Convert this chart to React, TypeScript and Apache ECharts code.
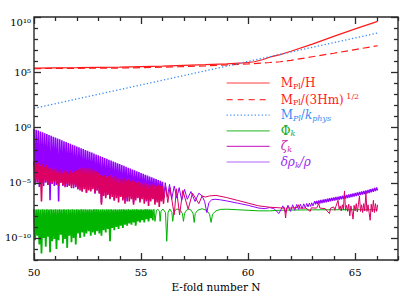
import React, { useEffect, useRef } from 'react';
import * as echarts from 'echarts';

// ---------- data (exponents: log10 of the plotted quantity) ----------
const xTickValues = [50, 51, 52, 53, 54, 55, 56, 57, 58, 59, 60, 61, 62, 63, 64, 65, 66, 67];
const yTickValues = [-12, -11, -10, -9, -8, -7, -6, -5, -4, -3, -2, -1, 0, 1, 2, 3, 4, 5, 6, 7, 8, 9, 10];
const yLabelText: Record<string, string> = {
  '10': '10¹⁰', '5': '10⁵', '0': '10⁰', '-5': '10⁻⁵', '-10': '10⁻¹⁰',
};

const nMplH = [50, 52, 54, 56, 58, 59, 59.8, 60.3, 60.7, 61.1, 61.5, 62, 63, 64, 65, 66.05];
const logMplH = [5.37, 5.41, 5.46, 5.55, 5.68, 5.76, 5.85, 5.95, 6.15, 6.42, 6.6, 6.9, 7.55, 8.25, 8.92, 9.6];

const nMplHm = [50, 54, 56, 58, 60, 61, 61.5, 62, 63, 64, 65, 66.05];
const logMplHm = [5.33, 5.38, 5.45, 5.58, 5.75, 5.88, 5.95, 6.08, 6.4, 6.72, 7.05, 7.4];

const nMplK = [50, 58, 66.05];
const logMplK = [1.73, 5.13, 8.56];

const BAND_START = 50;
const BAND_STEP = 0.1;

const drhoTop = [
  -0.12, -0.2, -0.28, -0.36, -0.44, -0.52, -0.6, -0.68, -0.76, -0.84,
  -0.92, -1.0, -1.08, -1.16, -1.24, -1.32, -1.4, -1.48, -1.56, -1.64,
  -1.72, -1.8, -1.88, -1.96, -2.04, -2.12, -2.2, -2.28, -2.36, -2.44,
  -2.52, -2.6, -2.68, -2.76, -2.84, -2.92, -3.0, -3.08, -3.16, -3.24,
  -3.32, -3.4, -3.48, -3.56, -3.64, -3.72, -3.8, -3.88, -3.96, -4.04,
  -4.12, -4.2, -4.28, -4.36, -4.44, -4.52, -4.6, -4.68, -4.76, -4.84,
  -4.92,
];
const drhoBot = [
  -5.2, -5.0, -5.4, -5.1, -5.3, -5.0, -5.2, -6.6, -5.1, -5.3,
  -5.2, -6.7, -5.0, -5.3, -5.1, -5.4, -5.2, -5.0, -5.5, -5.3,
  -5.6, -5.4, -5.8, -5.5, -5.9, -5.6, -5.7, -5.5, -6.0, -5.7,
  -5.9, -6.8, -5.8, -6.2, -6.0, -6.4, -6.1, -6.6, -6.0, -6.3,
  -6.2, -6.5, -6.1, -6.7, -6.3, -6.2, -6.8, -6.4, -6.3, -6.6,
  -6.4, -6.2, -6.7, -6.3, -6.5, -6.2, -6.6, -6.3, -6.5, -6.2,
  -6.4,
];

const zetaTop = [
  -3.1, -3.3, -3.2, -3.5, -3.3, -3.6, -3.4, -3.7, -3.6, -3.8,
  -3.7, -4.0, -3.8, -4.1, -3.9, -4.0, -4.2, -3.9, -4.1, -4.0,
  -3.9, -3.8, -3.7, -3.7, -3.6, -3.7, -3.7, -3.8, -3.9, -4.0,
  -4.1, -4.3, -4.4, -4.3, -4.5, -4.4, -4.3, -4.5, -4.4, -4.6,
  -4.6, -4.7, -4.6, -4.8, -4.7, -4.9, -4.8, -4.9, -5.0, -4.9,
  -5.0, -5.1, -5.0, -5.1, -5.2, -5.1, -5.2, -5.3, -5.2, -5.3,
  -5.3,
];
const zetaBot = [
  -5.0, -4.9, -5.1, -6.7, -5.0, -4.9, -5.2, -5.0, -5.1, -4.9,
  -5.1, -5.3, -5.0, -5.2, -5.4, -5.1, -5.3, -5.5, -5.2, -5.4,
  -5.6, -5.7, -5.8, -5.6, -5.9, -5.7, -5.8, -5.6, -5.9, -5.7,
  -6.0, -7.0, -6.2, -6.4, -6.1, -6.5, -6.3, -6.6, -6.4, -6.8,
  -6.3, -6.6, -6.9, -6.4, -6.7, -6.5, -7.0, -6.6, -6.4, -6.8,
  -6.5, -6.9, -6.6, -7.1, -6.7, -6.5, -7.0, -6.8, -7.2, -6.7,
  -6.9,
];

const phiTop = [
  -7.4, -7.43, -7.41, -7.44, -7.4, -7.42, -7.41, -7.44, -7.4, -7.43,
  -7.41, -7.42, -7.4, -7.44, -7.41, -7.43, -7.4, -7.42, -7.41, -7.44,
  -7.4, -7.43, -7.41, -7.42, -7.4, -7.44, -7.41, -7.43, -7.4, -7.42,
  -7.41, -7.44, -7.4, -7.43, -7.41, -7.42, -7.4, -7.44, -7.41, -7.43,
  -7.4, -7.42, -7.41, -7.44, -7.4, -7.43, -7.41, -7.42, -7.4, -7.44,
  -7.41, -7.43, -7.4, -7.42, -7.41, -7.44,
];
const phiBot = [
  -10.2, -9.8, -10.6, -11.4, -10.0, -10.8, -9.9, -11.3, -10.3, -10.1,
  -11.0, -10.2, -9.7, -10.5, -10.1, -10.9, -9.8, -10.4, -10.0, -10.6,
  -9.6, -10.0, -9.5, -9.9, -9.6, -9.4, -9.8, -9.5, -9.7, -9.4,
  -9.6, -9.8, -9.3, -9.5, -9.2, -10.3, -9.1, -9.3, -9.0, -9.2,
  -8.9, -9.1, -8.8, -8.9, -8.7, -8.8, -8.6, -8.9, -8.5, -8.6,
  -8.4, -8.6, -8.3, -8.5, -8.2, -8.4,
];

const drhoTail = [
  [56.05, -6.4], [56.13, -5.0], [56.23, -6.3], [56.33, -5.15], [56.43, -6.5], [56.55, -5.3], [56.67, -6.4],
  [56.78, -5.45], [56.9, -6.6], [57.03, -5.6], [57.16, -6.5], [57.33, -5.8], [57.52, -6.7],
  [57.7, -5.95], [57.85, -6.2], [57.97, -6.7], [58.07, -7.7], [58.17, -6.8], [58.3, -6.55],
  [58.45, -6.5], [58.7, -6.55], [59.0, -6.65], [59.5, -6.85], [60.0, -7.05], [60.5, -7.3],
  [60.8, -7.35], [61.0, -7.25], [61.2, -7.35], [61.32, -7.55], [61.43, -7.8], [61.55, -7.4],
  [61.62, -7.1], [61.75, -7.7], [61.86, -7.05], [61.98, -7.6], [62.08, -7.0], [62.18, -7.5],
  [62.27, -6.97], [62.36, -7.42], [62.44, -6.94], [62.52, -7.35], [62.6, -6.91], [62.67, -7.28],
  [62.74, -6.88], [62.8, -7.2], [62.86, -6.85], [62.92, -7.15], [62.97, -6.82], [63.03, -7.1],
  [63.1, -6.68],
];
const END_START = 63.1;
const drhoEndTop = [
  -6.68, -6.65, -6.61, -6.57, -6.53, -6.49, -6.45, -6.41, -6.37, -6.33,
  -6.3, -6.26, -6.22, -6.19, -6.15, -6.11, -6.06, -6.02, -5.98, -5.93,
  -5.88, -5.84, -5.79, -5.75, -5.7, -5.65, -5.59, -5.54, -5.48, -5.43,
];
const drhoEndBot = [
  -6.96, -6.93, -6.89, -6.85, -6.81, -6.77, -6.73, -6.69, -6.65, -6.61,
  -6.58, -6.54, -6.5, -6.47, -6.43, -6.39, -6.34, -6.3, -6.26, -6.21,
  -6.16, -6.12, -6.07, -6.03, -5.98, -5.93, -5.87, -5.82, -5.76, -5.71,
];

const zetaTail = [
  [56.05, -6.9], [56.15, -5.35], [56.25, -6.8], [56.35, -5.45], [56.55, -7.9], [56.65, -5.55], [56.8, -7.9],
  [56.95, -5.7], [57.2, -7.4], [57.4, -5.95], [57.7, -6.9], [57.85, -6.2], [58.0, -6.3],
  [58.2, -6.2], [58.5, -6.15], [59.0, -6.35], [59.5, -6.6], [60.0, -6.85], [60.5, -7.1],
  [61.0, -7.22], [61.5, -7.28], [61.6, -7.3], [61.7, -7.25], [61.75, -8.2], [61.8, -7.28],
  [62.0, -7.3], [62.3, -7.25], [62.35, -7.0], [62.4, -7.3], [62.7, -7.3], [62.9, -7.6],
  [62.95, -7.28], [63.2, -7.3], [63.3, -6.9], [63.35, -7.3], [63.6, -7.35], [63.8, -7.8],
  [63.85, -7.3], [64.0, -7.2], [64.05, -7.5], [64.1, -7.15], [64.2, -6.6], [64.25, -7.4],
  [64.3, -7.1], [64.35, -7.55], [64.4, -7.0], [64.45, -7.45], [64.5, -5.75], [64.55, -7.5],
  [64.6, -7.05], [64.65, -7.6], [64.7, -6.95], [64.75, -8.0], [64.8, -7.1], [64.85, -7.6],
  [64.9, -8.3], [64.95, -7.05], [65.0, -7.55], [65.05, -6.9], [65.1, -7.65], [65.15, -7.0],
  [65.2, -6.2], [65.25, -7.6], [65.3, -7.0], [65.35, -7.7], [65.4, -6.9], [65.45, -7.55],
  [65.5, -5.9], [65.55, -7.6], [65.6, -7.0], [65.65, -7.7], [65.7, -8.4], [65.75, -6.95],
  [65.8, -7.65], [65.85, -6.6], [65.9, -7.7], [65.95, -6.9], [66.0, -7.6], [66.05, -7.0],
];

const phiTail = [
  [55.55, -8.4], [55.6, -7.4], [55.65, -8.5], [55.72, -7.5], [55.78, -7.4], [55.86, -7.6], [55.89, -8.5],
  [55.93, -7.6], [56.02, -7.38], [56.14, -7.7], [56.2, -10.3], [56.26, -7.7], [56.34, -7.38],
  [56.44, -7.7], [56.48, -8.5], [56.53, -7.7], [56.64, -7.4], [56.73, -7.4], [56.84, -7.5],
  [56.93, -7.8], [56.98, -8.5], [57.03, -7.8], [57.12, -7.5], [57.23, -7.38], [57.34, -7.5],
  [57.43, -7.8], [57.48, -8.6], [57.53, -7.8], [57.64, -7.5], [57.85, -7.36], [58.05, -7.5],
  [58.2, -7.85], [58.27, -8.6], [58.34, -7.85], [58.5, -7.55], [58.7, -7.42], [59.0, -7.4],
  [59.5, -7.45], [60.0, -7.5], [60.5, -7.55], [61.0, -7.55], [61.5, -7.5], [62.0, -7.48],
  [63.0, -7.46], [64.0, -7.45], [65.0, -7.45], [66.05, -7.45],
];

// ---------- helpers ----------
const pairs = (xs: number[], ys: number[]) => xs.map((x, i) => [x, ys[i]]);
const zigzag = (n0: number, step: number, top: number[], bot: number[]) => {
  const out: number[][] = [];
  for (let i = 0; i < top.length; i++) {
    const n = n0 + i * step;
    out.push([+n.toFixed(3), top[i]]);
    out.push([+(n + step / 2).toFixed(3), bot[i]]);
  }
  return out;
};

const FONT = 'DejaVu Serif';
const AX = '#2a2a2a';
const X_MIN = 50, X_MAX = 67, Y_MIN = -12, Y_MAX = 10;

const RED = '#ff1a1a';
const BLUE = '#3a8af5';
const GREEN = '#00b400';
const ZETA = '#dc0064';
const PURPLE = '#9400ff';

const legendLabels: Record<string, string> = {
  MplH: '{sp| }{r|M}{rs|Pl}{r|/H}',
  MplHm: '{sp| }{r|M}{rs|Pl}{r|/(3Hm)}{rsup| 1/2}',
  MplK: '{sp| }{b|M}{bs|Pl}{b|/}{bi|k}{bs|phys}',
  Phi: '{sp| }{g|Φ}{gs|k}',
  Zeta: '{sp| }{m|ζ}{ms|k}',
  Drho: '{sp| }{p|δρ}{ps|k}{p|/ρ}',
};

const main = (color: string, italic = false) => ({
  color, fontFamily: FONT, fontSize: 12, lineHeight: 14, fontStyle: italic ? 'italic' : 'normal',
});
const sub = (color: string, italic = false) => ({
  color, fontFamily: FONT, fontSize: 8, lineHeight: 8, verticalAlign: 'bottom', fontStyle: italic ? 'italic' : 'normal',
});
const sup = (color: string) => ({
  color, fontFamily: FONT, fontSize: 8, lineHeight: 8, verticalAlign: 'top',
});

export default function App() {
  const ref = useRef<HTMLDivElement>(null);

  useEffect(() => {
    if (!ref.current) return;
    const chart = echarts.init(ref.current, undefined, { renderer: 'svg' });

    const line = (name: string, data: number[][], color: string, width = 1, type: any = 'solid') => ({
      name, type: 'line', data, showSymbol: false, symbol: 'none', smooth: false,
      lineStyle: { color, width, type }, itemStyle: { color }, emphasis: { disabled: true }, silent: true,
      clip: true, z: 2,
    });

    const legendItem = (name: string, color: string, width: number, type: any = 'solid') => ({
      name, lineStyle: { color, width, type, opacity: 1 }, itemStyle: { color, opacity: 0, borderWidth: 0 },
    });

    // tick marks drawn through the axes' own scales (inward, on all four sides)
    const snap = (v: number) => Math.round(v) + 0.5;
    const tickStyle = () => ({ stroke: AX, lineWidth: 1.3 });
    const xTickSeries = {
      name: 'xticks', type: 'custom', silent: true, clip: false, z: 8,
      data: xTickValues.map((v) => [v, 0]),
      renderItem: (_p: any, api: any) => {
        const v = api.value(0);
        const len = v % 5 === 0 ? 7 : 4;
        const b = api.coord([v, Y_MIN]);
        const t = api.coord([v, Y_MAX]);
        const x = snap(b[0]);
        return {
          type: 'group',
          children: [
            { type: 'line', shape: { x1: x, y1: b[1], x2: x, y2: b[1] - len }, style: tickStyle() },
            { type: 'line', shape: { x1: x, y1: t[1], x2: x, y2: t[1] + len }, style: tickStyle() },
          ],
        };
      },
    };
    const yTickSeries = {
      name: 'yticks', type: 'custom', silent: true, clip: false, z: 8,
      data: yTickValues.map((v) => [X_MIN, v]),
      renderItem: (_p: any, api: any) => {
        const v = api.value(1);
        const len = v % 5 === 0 ? 7 : 4;
        const l = api.coord([X_MIN, v]);
        const r = api.coord([X_MAX, v]);
        const y = snap(l[1]);
        return {
          type: 'group',
          children: [
            { type: 'line', shape: { x1: l[0], y1: y, x2: l[0] + len, y2: y }, style: tickStyle() },
            { type: 'line', shape: { x1: r[0], y1: y, x2: r[0] - len, y2: y }, style: tickStyle() },
          ],
        };
      },
    };

    const option: any = {
      animation: false,
      backgroundColor: '#ffffff',
      grid: {
        left: 34, right: 17, top: 17, bottom: 37, containLabel: false, outerBoundsMode: 'none',
        show: true, borderColor: AX, borderWidth: 1.4, backgroundColor: 'transparent', z: 6,
      },
      xAxis: {
        type: 'value', min: X_MIN, max: X_MAX, interval: 1, splitLine: { show: false },
        axisLine: { show: false, onZero: false }, axisTick: { show: false },
        axisLabel: {
          show: true, margin: 7, color: '#000', fontFamily: FONT, fontSize: 10,
          formatter: (v: number) => (Math.round(v) % 5 === 0 ? String(Math.round(v)) : ''),
        },
        name: 'E-fold number N', nameLocation: 'middle', nameGap: 14,
        nameTextStyle: { color: '#000', fontFamily: FONT, fontSize: 10.5 },
      },
      yAxis: {
        type: 'value', min: Y_MIN, max: Y_MAX, interval: 1, splitLine: { show: false },
        axisLine: { show: false, onZero: false }, axisTick: { show: false },
        axisLabel: {
          show: true, margin: 3, color: '#000', fontFamily: FONT, fontSize: 10,
          verticalAlignMaxLabel: 'top',
          formatter: (v: number) => yLabelText[String(Math.round(v))] || '',
        },
      },
      legend: {
        orient: 'vertical', left: 226, top: 77, padding: 0, itemWidth: 43, itemHeight: 14, itemGap: 2.6,
        selectedMode: false,
        data: [
          legendItem('MplH', '#ff3b3b', 1.2),
          legendItem('MplHm', '#ff3b3b', 1.2, [6, 5]),
          legendItem('MplK', '#4a96f5', 1.3, [1.3, 2.2]),
          legendItem('Phi', '#4cc44c', 1.2),
          legendItem('Zeta', '#d03ccc', 1.2),
          legendItem('Drho', '#b366ff', 1.2),
        ],
        formatter: (name: string) => legendLabels[name],
        textStyle: {
          fontFamily: FONT, fontSize: 12,
          rich: {
            sp: { width: 6 },
            r: main(RED), rs: sub(RED), rsup: sup(RED),
            b: main(BLUE), bi: main(BLUE, true), bs: sub(BLUE, true),
            g: main('#1aaa1a'), gs: sub('#1aaa1a', true),
            m: main('#cc1fb0', true), ms: sub('#cc1fb0', true),
            p: main('#9a2cf0', true), ps: sub('#9a2cf0', true),
          },
        },
      },
      series: [
        line('MplH', pairs(nMplH, logMplH), RED, 1.2),
        line('MplHm', pairs(nMplHm, logMplHm), RED, 1.2, [7, 4]),
        line('MplK', pairs(nMplK, logMplK), BLUE, 1.3, [1.3, 2.2]),
        line('Phi', zigzag(BAND_START, BAND_STEP, phiTop, phiBot), GREEN, 1.8),
        line('Phi', phiTail, GREEN, 1),
        line('Drho', zigzag(BAND_START, BAND_STEP, drhoTop, drhoBot), PURPLE, 1.6),
        line('Drho', drhoTail, PURPLE, 1),
        line('Drho', zigzag(END_START, BAND_STEP, drhoEndTop, drhoEndBot), PURPLE, 1.3),
        line('Zeta', zigzag(BAND_START, BAND_STEP, zetaTop, zetaBot), ZETA, 1.6),
        line('Zeta', zetaTail, ZETA, 1),
        xTickSeries,
        yTickSeries,
      ],
    };

    chart.setOption(option);
    return () => chart.dispose();
  }, []);

  return (
    <div
      ref={ref}
      style={{ position: 'fixed', left: 0, top: 0, width: 415, height: 297, background: '#fff' }}
    />
  );
}
